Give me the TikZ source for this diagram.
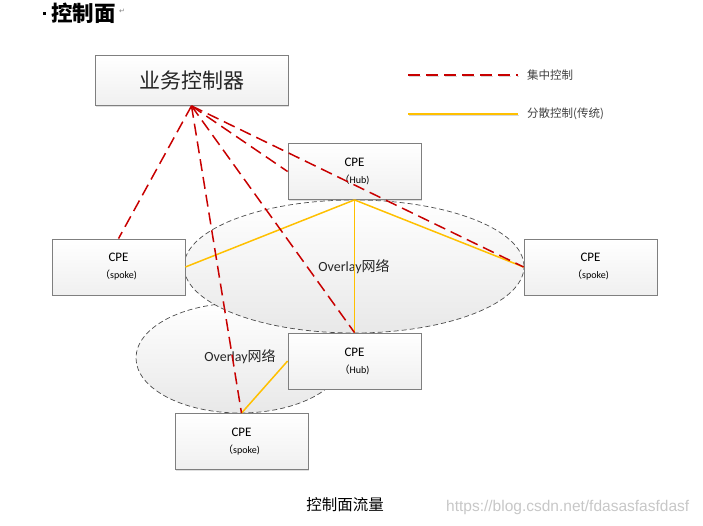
\documentclass[tikz,border=0pt]{standalone}
\usepackage{fontspec}
\setmainfont{Carlito}
\newfontfamily\cjk{Noto Sans CJK SC}
\newfontfamily\symb{DejaVu Sans}
\usetikzlibrary{shadows,shapes.geometric}
\definecolor{ctrlred}{HTML}{C80000}
\definecolor{distyel}{HTML}{FFC000}
\definecolor{boxedge}{HTML}{7F7F7F}
\tikzset{
  devbox/.style={draw=boxedge, line width=0.8pt, top color=white, bottom color=black!6,
    minimum width=133pt, minimum height=56pt, inner sep=0pt, align=center,
    drop shadow={shadow xshift=1.2pt, shadow yshift=-1.2pt, opacity=0.25}},
  overlay net/.style={draw=black!70, dashed, dash pattern=on 5pt off 3pt, line width=0.7pt,
    top color=white, bottom color=black!9},
  central/.style={draw=ctrlred, line width=1.5pt, dash pattern=on 12pt off 6pt},
  distrib/.style={draw=distyel, line width=1.5pt},
  netlabel/.style={font=\fontsize{14}{16}\selectfont, text=black!85}
}
\newcommand{\cpetext}[1]{{\fontsize{13}{15}\selectfont CPE}\\[5pt]{\fontsize{10}{12}\selectfont {\cjk （}#1)}}
\begin{document}
\begin{tikzpicture}[x=1pt, y=-1pt]
\useasboundingbox (0,0) rectangle (703,525);

% heading
\fill (43,12) rectangle (46,15);
\node[anchor=west, inner sep=0pt, font=\cjk\bfseries\fontsize{21.5}{23}\selectfont] (head) at (51,13) {控制面};
\node[anchor=west, inner sep=0pt, text=black!50, font=\symb\fontsize{7}{7}\selectfont] (ret) at ([xshift=3pt,yshift=2pt]head.east) {↵};

% overlay networks
\node[overlay net, ellipse, minimum width=208pt, minimum height=110pt] (el2) at (240,358) {};
\node[netlabel] (el2lab) at (240,357) {Overlay{\cjk 网络}};
\node[overlay net, ellipse, minimum width=340pt, minimum height=133pt] (el1) at (354,266.5) {};
\node[netlabel] (el1lab) at (354,267) {Overlay{\cjk 网络}};

% controller and devices
\node[devbox, minimum width=193pt, minimum height=50pt, font=\cjk\fontsize{21}{23}\selectfont, text=black!85] (ctrl) at (191.5,80.5) {业务控制器};
\node[devbox] (hubT) at (354.5,171.5) {\cpetext{Hub}};
\node[devbox] (spL)  at (118.5,267)   {\cpetext{spoke}};
\node[devbox] (spR)  at (590.5,267)   {\cpetext{spoke}};
\node[devbox] (hubB) at (354.5,361)   {\cpetext{Hub}};
\node[devbox] (spB)  at (241.5,441.5) {\cpetext{spoke}};

% distributed (traditional) control links
\draw[distrib] (hubT.south) -- (spL.east);
\draw[distrib] (hubT.south) -- (spR.west);
\draw[distrib] (hubT.south) -- (hubB.north);
\draw[distrib] (hubB.west) -- (spB.north);

% centralized control links
\draw[central] (ctrl.south) -- (spL.north);
\draw[central] (ctrl.south) -- (spB.north);
\draw[central] (ctrl.south) -- (hubB.north);
\draw[central] (ctrl.south) -- (hubT.west);
\draw[central] (ctrl.south) -- (spR.west);

% legend
\coordinate (lgA1) at (408,75);  \coordinate (lgA2) at (518,75);
\coordinate (lgB1) at (408,114); \coordinate (lgB2) at (518,114);
\draw[black!15, line width=1.5pt, dash pattern=on 12pt off 6pt] ([shift={(1,1.5)}]lgA1) -- ([shift={(1,1.5)}]lgA2);
\draw[central] (lgA1) -- (lgA2);
\draw[black!15, line width=1.5pt] ([shift={(1,1.5)}]lgB1) -- ([shift={(1,1.5)}]lgB2);
\draw[distrib] (lgB1) -- (lgB2);
\node[anchor=west, inner sep=0pt, text=black!75, font=\cjk\fontsize{11.5}{13}\selectfont] (lgAt) at (527,75) {集中控制};
\node[anchor=west, inner sep=0pt, text=black!75, font=\cjk\fontsize{11.5}{13}\selectfont] (lgBt) at (527,114) {分散控制(传统)};

% caption and source
\node[font=\cjk\fontsize{15.5}{17}\selectfont] (cap) at (345,505) {控制面流量};
\node[anchor=west, inner sep=0pt, text=black!22, font=\fontsize{15.5}{17}\selectfont] (src) at (446,507) {\fontspec{Liberation Sans}https://blog.csdn.net/fdasasfasfdasf};
\end{tikzpicture}
\end{document}
